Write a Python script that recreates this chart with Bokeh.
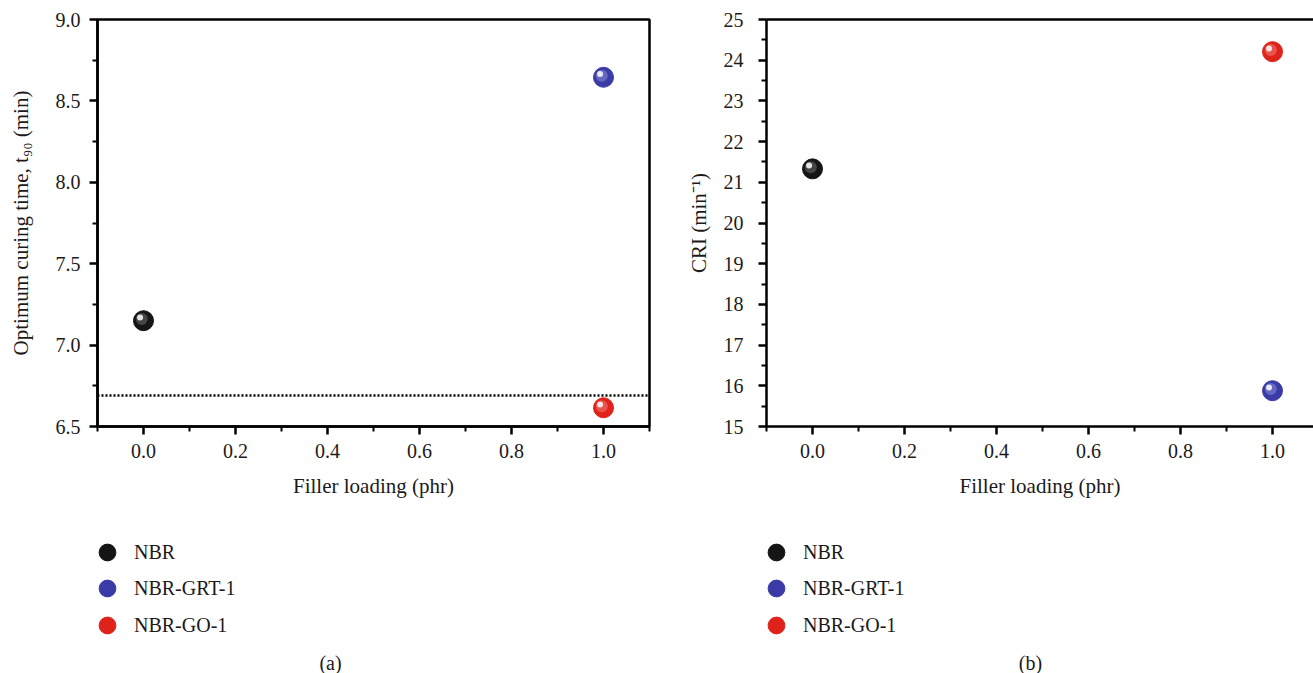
from bokeh.plotting import figure
from bokeh.layouts import row, column
from bokeh.models import (ColumnDataSource, Span, Legend, LegendItem, Label,
                          FixedTicker, LinearAxis, Range1d, PrintfTickFormatter)
from bokeh.transform import dodge
from bokeh.embed import file_html
from bokeh.resources import INLINE

# ---------------- data ----------------
series = ["NBR", "NBR-GRT-1", "NBR-GO-1"]
filler = [0.0, 1.0, 1.0]
t90 = [7.15, 8.645, 6.615]
cri = [21.33, 15.88, 24.21]
t90_ref = 6.69
colors = ["#151515", "#3a3ba6", "#e0231a"]
highlights = ["#a0a0a0", "#b8baf2", "#f9b4ac"]

x_ticks = [0.0, 0.2, 0.4, 0.6, 0.8, 1.0]
x_minor = [-0.1, 0.1, 0.3, 0.5, 0.7, 0.9, 1.1]
t90_ticks = [6.5, 7.0, 7.5, 8.0, 8.5, 9.0]
t90_minor = [6.75, 7.25, 7.75, 8.25, 8.75]
cri_ticks = [15, 16, 17, 18, 19, 20, 21, 22, 23, 24, 25]
cri_minor = [15.5, 16.5, 17.5, 18.5, 19.5, 20.5, 21.5, 22.5, 23.5, 24.5]

FONT = "Liberation Serif"
INK = "#1c1a1a"
MAIN_H = 510
LEG_H = 673 - MAIN_H


def style_axis(ax):
    ax.axis_line_color = "black"
    ax.axis_line_width = 2.5
    ax.major_tick_line_color = "black"
    ax.major_tick_line_width = 2.5
    ax.major_tick_out = 8
    ax.major_tick_in = 0
    ax.minor_tick_line_color = "black"
    ax.minor_tick_line_width = 2
    ax.minor_tick_out = 5
    ax.minor_tick_in = 0
    ax.major_label_text_font = FONT
    ax.major_label_text_font_size = "20px"
    ax.major_label_text_color = INK
    ax.major_label_standoff = 9
    ax.axis_label_text_font = FONT
    ax.axis_label_text_font_size = "21px"
    ax.axis_label_text_font_style = "normal"
    ax.axis_label_text_color = INK


def spheres(p, src, ycol, dx, dy):
    base = p.scatter("x", ycol, source=src, size=20, fill_color="color",
                     line_color="color", line_width=1)
    p.scatter(dodge("x", -dx * 0.5, range=p.x_range), dodge(ycol, dy * 0.5, range=p.y_range),
              source=src, size=12, fill_color="hl", fill_alpha=0.35, line_color=None)
    p.scatter(dodge("x", -dx, range=p.x_range), dodge(ycol, dy, range=p.y_range),
              source=src, size=6, fill_color="white", fill_alpha=0.85, line_color=None)
    return base


# bottom edge (px from strip bottom) of each legend row box
ROW_BOTTOMS = [100, 64, 27]


def legend_panel(width, src, tag, tag_x):
    # strip below the chart holding the legend and the panel tag (frame aligned to chart frame)
    lp = figure(width=width, height=LEG_H, x_range=Range1d(50, 51), y_range=Range1d(50, 51),
                output_backend="svg", toolbar_location=None,
                x_axis_location=None, y_axis_location=None,
                min_border_left=0, min_border_right=0, min_border_top=0, min_border_bottom=0)
    lp.grid.visible = False
    lp.outline_line_color = None
    base = lp.scatter("x", "t90", source=src, size=20, fill_color="color", line_color="color")
    for i in range(len(series)):
        leg = Legend(items=[LegendItem(label=series[i], renderers=[base], index=i)],
                     location=(-11, ROW_BOTTOMS[i]), orientation="vertical",
                     border_line_color=None, background_fill_alpha=0, padding=0, margin=0,
                     glyph_width=42, glyph_height=42, spacing=0, label_standoff=6,
                     label_text_font=FONT, label_text_font_size="20px", label_text_color=INK,
                     label_height=20)
        lp.add_layout(leg, "center")
    lp.add_layout(Label(x=tag_x, y=11, x_units="screen", y_units="screen", text=tag,
                        text_align="center", text_baseline="middle", text_font=FONT,
                        text_font_size="20px", text_color=INK))
    return lp


src = ColumnDataSource(dict(x=filler, t90=t90, cri=cri, name=series,
                            color=colors, hl=highlights))

# ---------------- panel (a) ----------------
pa = figure(width=660, height=MAIN_H, x_range=Range1d(-0.1, 1.1), y_range=Range1d(6.5, 9.0),
            output_backend="svg", toolbar_location=None,
            min_border_left=97, min_border_right=11, min_border_top=19,
            min_border_bottom=MAIN_H - 426)
pa.grid.visible = False
pa.outline_line_color = "black"
pa.outline_line_width = 2.5
pa.outline_line_alpha = 1
pa.xaxis.ticker = FixedTicker(ticks=x_ticks, minor_ticks=x_minor)
pa.xaxis.formatter = PrintfTickFormatter(format="%.1f")
pa.yaxis.ticker = FixedTicker(ticks=t90_ticks, minor_ticks=t90_minor)
pa.yaxis.formatter = PrintfTickFormatter(format="%.1f")
pa.xaxis.axis_label = "Filler loading (phr)"
pa.yaxis.axis_label = "Optimum curing time, t\u2089\u2080 (min)"
for ax in pa.xaxis + pa.yaxis:
    style_axis(ax)
pa.xaxis.axis_label_standoff = 13
pa.yaxis.axis_label_standoff = 20

pa.add_layout(Span(location=t90_ref, dimension="width", line_color="black",
                   line_dash="2 2", line_width=2.5))
spheres(pa, src, "t90", 0.0075, 0.02)

# ---------------- panel (b) ----------------
pb = figure(width=653, height=MAIN_H, x_range=Range1d(-0.1, 1.0891), y_range=Range1d(15, 25),
            output_backend="svg", toolbar_location=None,
            min_border_left=106, min_border_right=0, min_border_top=19,
            min_border_bottom=MAIN_H - 426)
pb.grid.visible = False
pb.outline_line_color = None
pb.xaxis.ticker = FixedTicker(ticks=x_ticks, minor_ticks=x_minor)
pb.xaxis.formatter = PrintfTickFormatter(format="%.1f")
pb.yaxis.ticker = FixedTicker(ticks=cri_ticks, minor_ticks=cri_minor)
pb.yaxis.formatter = PrintfTickFormatter(format="%d")
pb.xaxis.axis_label = "Filler loading (phr)"
pb.yaxis.axis_label = "CRI (min\u207b\u00b9)"
for ax in pb.xaxis + pb.yaxis:
    style_axis(ax)
pb.yaxis.major_label_standoff = 15
pb.xaxis.axis_label_standoff = 13
pb.yaxis.axis_label_standoff = 10
top = LinearAxis(ticker=FixedTicker(ticks=[]), axis_line_color="black", axis_line_width=2.5,
                 major_tick_line_color=None, minor_tick_line_color=None,
                 major_label_text_font_size="0px")
pb.add_layout(top, "above")
spheres(pb, src, "cri", 0.0075, 0.08)

la = legend_panel(660, src, "(a)", 233)
lb = legend_panel(653, src, "(b)", 264)

layout = row(column(pa, la), column(pb, lb))
open("out.html", "w").write(file_html(layout, INLINE))
